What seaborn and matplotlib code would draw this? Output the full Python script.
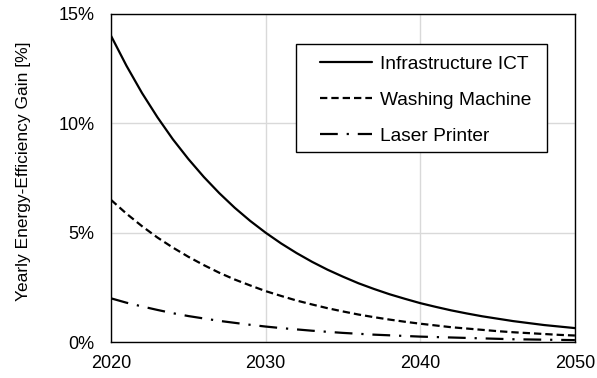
import numpy as np
import pandas as pd
import matplotlib
matplotlib.use("Agg")
import matplotlib.pyplot as plt
import seaborn as sns
from matplotlib.patches import Rectangle
from matplotlib.ticker import FuncFormatter

# values (percent per year)
years = list(range(2020, 2051))
infra_ict = [14.0, 12.63, 11.39, 10.28, 9.27, 8.37, 7.55, 6.81, 6.14, 5.54,
             5.0, 4.51, 4.07, 3.67, 3.31, 2.99, 2.69, 2.43, 2.19, 1.98,
             1.78, 1.61, 1.45, 1.31, 1.18, 1.07, 0.96, 0.87, 0.78, 0.71, 0.64]
washing = [6.5, 5.87, 5.3, 4.78, 4.32, 3.9, 3.52, 3.17, 2.86, 2.59,
           2.33, 2.11, 1.9, 1.72, 1.55, 1.4, 1.26, 1.14, 1.03, 0.93,
           0.84, 0.76, 0.68, 0.62, 0.56, 0.5, 0.45, 0.41, 0.37, 0.33, 0.30]
printer = [2.0, 1.8, 1.63, 1.47, 1.32, 1.19, 1.08, 0.97, 0.88, 0.79,
           0.71, 0.64, 0.58, 0.52, 0.47, 0.42, 0.38, 0.34, 0.31, 0.28,
           0.25, 0.23, 0.21, 0.19, 0.17, 0.15, 0.13, 0.12, 0.11, 0.10, 0.09]
series_names = ["Infrastructure ICT", "Washing Machine", "Laser Printer"]

df = pd.DataFrame({
    "year": years * 3,
    "gain": infra_ict + washing + printer,
    "series": [s for s in series_names for _ in years],
})

sns.set_style("white")
plt.rcParams["font.family"] = ["Liberation Sans", "DejaVu Sans"]
plt.rcParams["text.color"] = "black"
plt.rcParams["axes.labelcolor"] = "black"
plt.rcParams["xtick.color"] = "black"
plt.rcParams["ytick.color"] = "black"

fig = plt.figure(figsize=(5.97, 3.78), dpi=100)
ax = fig.add_axes([0.186, 0.095, 0.777, 0.868])

dashes = {
    "Infrastructure ICT": "",
    "Washing Machine": (3.3, 1.8),
    "Laser Printer": (8, 4, 1, 4),
}
sns.lineplot(data=df, x="year", y="gain", hue="series", style="series",
             palette=["black"] * 3, dashes=dashes, linewidth=1.6,
             ax=ax, legend=True)

ax.set_xlim(2020, 2050)
ax.set_ylim(0, 15)
ax.set_xticks([2020, 2030, 2040, 2050])
ax.set_yticks([0, 5, 10, 15])
ax.yaxis.set_major_formatter(FuncFormatter(lambda v, _: f"{v:.0f}%"))
ax.tick_params(length=0, labelsize=13)
ax.tick_params(axis="x", pad=9)
ax.tick_params(axis="y", pad=12)
ax.grid(True, color="#d9d9d9", linewidth=1)
ax.set_axisbelow(True)
for sp in ax.spines.values():
    sp.set_color("black")
    sp.set_linewidth(1)
ax.set_xlabel("")
ax.set_ylabel("Yearly Energy-Efficiency Gain [%]", fontsize=12.5)
ax.yaxis.set_label_coords(-0.172, 0.52)

# legend box drawn separately so the padding can be wider than tall
ax.add_patch(Rectangle((0.399, 0.579), 0.541, 0.330, transform=ax.transAxes,
                       facecolor="white", edgecolor="black", linewidth=1,
                       zorder=4))
handles, labels = ax.get_legend_handles_labels()
leg = ax.legend(handles, labels, loc="upper left", bbox_to_anchor=(0.450, 0.874),
                borderaxespad=0, borderpad=0, fontsize=13.8, handlelength=2.75,
                handletextpad=0.4, labelspacing=0.98, frameon=False)
leg.set_zorder(5)

plt.savefig("out.png", dpi=100)
plt.close()
